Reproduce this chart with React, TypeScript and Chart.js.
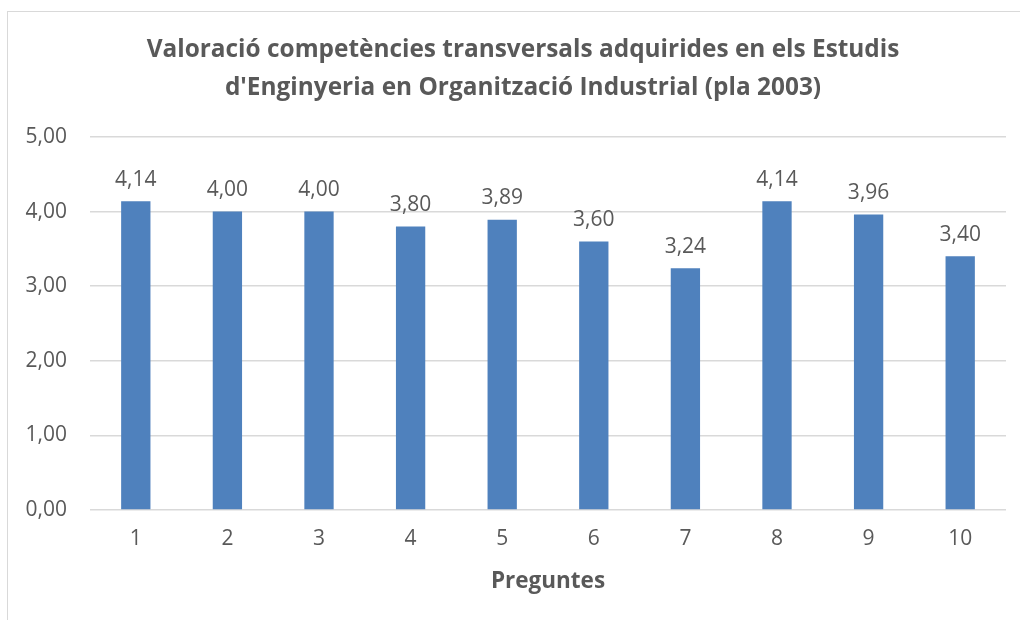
import React, { useEffect, useRef } from "react";
import { Chart, registerables } from "chart.js";

Chart.register(...registerables);

const categories = ["1", "2", "3", "4", "5", "6", "7", "8", "9", "10"];
const values = [4.14, 4.0, 4.0, 3.8, 3.89, 3.6, 3.24, 4.14, 3.96, 3.4];
const titleLines = [
  "Valoració competències transversals adquirides en els Estudis",
  "d'Enginyeria en Organització Industrial (pla 2003)",
];
const xTitle = "Preguntes";

const TEXT = "#595959";
const FONT = "'Open Sans', 'Noto Sans', sans-serif";

const fmt = (v: number) => v.toFixed(2).replace(".", ",");

const overlay = {
  id: "overlay",
  afterDatasetsDraw(chart: any) {
    const ctx = chart.ctx;
    ctx.save();
    ctx.fillStyle = TEXT;
    ctx.font = `21px ${FONT}`;
    ctx.textAlign = "center";
    ctx.textBaseline = "bottom";
    const meta = chart.getDatasetMeta(0);
    meta.data.forEach((bar: any, i: number) => {
      ctx.fillText(fmt(values[i]), bar.x, bar.y - 11);
    });
    ctx.font = `bold 24.4px ${FONT}`;
    ctx.textBaseline = "middle";
    const cx = 523;
    ctx.fillText(titleLines[0], cx, 50);
    ctx.fillText(titleLines[1], cx, 88);
    ctx.restore();
  },
};

export default function App() {
  const ref = useRef<HTMLCanvasElement | null>(null);
  useEffect(() => {
    if (!ref.current) return;
    const chart = new Chart(ref.current, {
      type: "bar",
      data: {
        labels: categories,
        datasets: [
          {
            data: values,
            backgroundColor: "#4F81BD",
            barPercentage: 0.32,
            categoryPercentage: 1,
          },
        ],
      },
      options: {
        animation: false,
        responsive: false,
        events: [],
        layout: { padding: { top: 137, right: 14, left: 0, bottom: 0 } },
        plugins: {
          legend: { display: false },
          title: { display: false },
          tooltip: { enabled: false },
        },
        scales: {
          x: {
            grid: { display: false, drawTicks: false },
            border: { display: false },
            ticks: { color: TEXT, font: { family: FONT, size: 21 }, padding: 16 },
            title: {
              display: true,
              text: xTitle,
              color: TEXT,
              font: { family: FONT, size: 22.5, weight: "bold" },
              padding: { top: 0, bottom: 25 },
            },
            afterFit: (s: any) => {
              s.height = 110;
            },
          },
          y: {
            min: 0,
            max: 5,
            grid: { color: "#d9d9d9", lineWidth: 1.5, drawTicks: false },
            border: { display: false },
            ticks: {
              stepSize: 1,
              color: TEXT,
              font: { family: FONT, size: 21 },
              padding: 23,
              callback: (v: any) => fmt(Number(v)),
            },
            afterFit: (s: any) => {
              s.width = 90;
            },
          },
        },
      },
      plugins: [overlay],
    });
    return () => chart.destroy();
  }, []);
  return (
    <div style={{ position: "fixed", left: 0, top: 0, width: 1020, height: 620, background: "#fff", overflow: "hidden" }}>
      <div
        style={{
          position: "absolute",
          left: 7,
          top: 11,
          width: 1040,
          height: 640,
          border: "1.5px solid #d9d9d9",
          boxSizing: "border-box",
        }}
      />
      <canvas ref={ref} width={1020} height={620} style={{ position: "absolute", left: 0, top: 0 }} />
    </div>
  );
}
